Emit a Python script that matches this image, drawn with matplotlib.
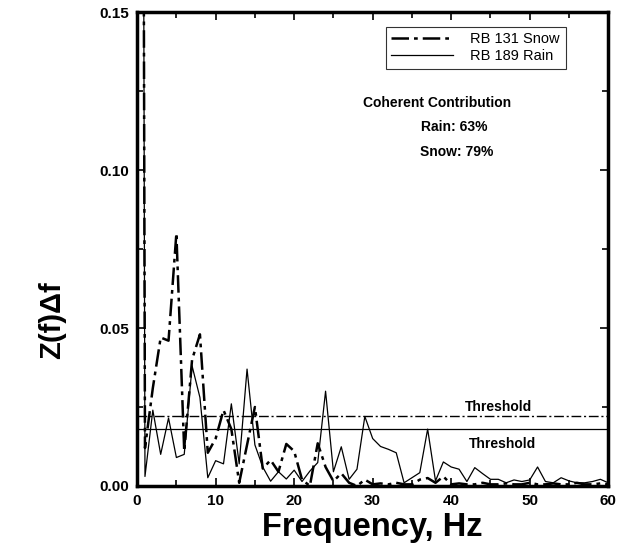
import matplotlib
matplotlib.use("Agg")
import matplotlib.pyplot as plt
from matplotlib.ticker import MultipleLocator, FormatStrFormatter

plt.rcParams['font.family'] = ['Liberation Sans', 'DejaVu Sans']

freq = list(range(0, 61))
rain = [1.0, 0.003, 0.024, 0.010, 0.0215, 0.009, 0.010, 0.038, 0.028, 0.0026,
        0.008, 0.007, 0.026, 0.007, 0.037, 0.013, 0.006, 0.0015, 0.0045, 0.0022,
        0.005, 0.0014, 0.0047, 0.0074, 0.030, 0.0045, 0.0124, 0.0021, 0.0053, 0.022,
        0.015, 0.0125, 0.0116, 0.0105, 0.001, 0.0026, 0.0042, 0.018, 0.0016, 0.0076,
        0.006, 0.0053, 0.0014, 0.0058, 0.0039, 0.0021, 0.0021, 0.001, 0.0019, 0.0014,
        0.0019, 0.006, 0.0014, 0.001, 0.0026, 0.0016, 0.001, 0.001, 0.0014, 0.0021,
        0.001]
snow = [1.0, 0.012, 0.031, 0.047, 0.046, 0.080, 0.011, 0.040, 0.048, 0.0105,
        0.015, 0.024, 0.018, 0.001, 0.013, 0.025, 0.0055, 0.0082, 0.0045, 0.0133,
        0.011, 0.002, 0.0, 0.0135, 0.006, 0.0015, 0.004, 0.001, 0.0, 0.002,
        0.0005, 0.0008, 0.0005, 0.001, 0.0005, 0.0005, 0.002, 0.0025, 0.001, 0.003,
        0.0005, 0.0008, 0.0005, 0.0005, 0.001, 0.0005, 0.0005, 0.0008, 0.0005, 0.0005,
        0.001, 0.0005, 0.0005, 0.0008, 0.0005, 0.0005, 0.001, 0.0005, 0.0005, 0.0008,
        0.0005]
snow_threshold = 0.022
rain_threshold = 0.018

fig = plt.figure(figsize=(6.29, 5.56), dpi=100)
ax = fig.add_axes([0.218, 0.126, 0.749, 0.852])

snow_dash = (0, (7, 2, 1.5, 2))
ax.plot(freq, snow, color='black', lw=1.8, linestyle=snow_dash, label='RB 131 Snow')
ax.plot(freq, rain, color='black', lw=0.9, linestyle='-', label='RB 189 Rain')
ax.axhline(snow_threshold, color='black', lw=1.0, linestyle=snow_dash)
ax.axhline(rain_threshold, color='black', lw=0.9, linestyle='-')

ax.set_xlim(0, 60)
ax.set_ylim(0, 0.15)
ax.xaxis.set_major_locator(MultipleLocator(10))
ax.xaxis.set_minor_locator(MultipleLocator(5))
ax.yaxis.set_major_locator(MultipleLocator(0.05))
ax.yaxis.set_minor_locator(MultipleLocator(0.025))
ax.yaxis.set_major_formatter(FormatStrFormatter('%.2f'))
ax.tick_params(which='both', direction='in', top=True, right=True, width=1.2)
ax.tick_params(which='major', length=6, labelsize=11, pad=6)
ax.tick_params(which='minor', length=4)
for lbl in ax.get_xticklabels() + ax.get_yticklabels():
    lbl.set_fontweight('bold')
for s in ax.spines.values():
    s.set_linewidth(2.5)

ax.set_xlabel('Frequency, Hz', fontsize=23.5, fontweight='bold', labelpad=3)
ax.set_ylabel('Z(f)\u0394f', fontsize=21, fontweight='bold')
ax.yaxis.set_label_coords(-0.15, 0.35)

leg = ax.legend(loc='upper right', bbox_to_anchor=(0.925, 0.985), frameon=True,
                fancybox=False, edgecolor='black', fontsize=10.5, handlelength=4.2,
                borderpad=0.4, labelspacing=0.2, handletextpad=1.2)
leg.get_frame().set_linewidth(0.8)

ax.text(0.48, 0.808, 'Coherent Contribution', transform=ax.transAxes,
        fontsize=10, fontweight='bold', ha='left', va='center')
ax.text(0.602, 0.757, 'Rain: 63%', transform=ax.transAxes,
        fontsize=10, fontweight='bold', ha='left', va='center')
ax.text(0.6, 0.706, 'Snow: 79%', transform=ax.transAxes,
        fontsize=10, fontweight='bold', ha='left', va='center')
ax.text(0.695, snow_threshold + 0.0007, 'Threshold', transform=ax.get_yaxis_transform(),
        fontsize=10, fontweight='bold', ha='left', va='bottom')
ax.text(0.705, rain_threshold - 0.0025, 'Threshold', transform=ax.get_yaxis_transform(),
        fontsize=10, fontweight='bold', ha='left', va='top')

fig.savefig('out.png', dpi=100)
